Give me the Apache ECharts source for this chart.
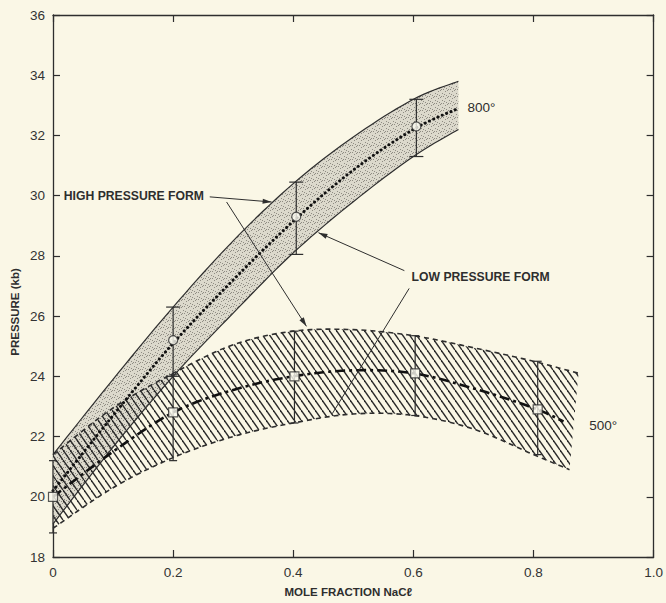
<!DOCTYPE html>
<html lang="en">
<head>
<meta charset="UTF-8">
<title>Pressure vs mole fraction NaCl</title>
<script src="https://cdn.jsdelivr.net/npm/echarts@6/dist/echarts.min.js"></script>
<style>
  * { margin: 0; padding: 0; }
  html, body { width: 666px; height: 603px; background: #faf7e6; }
  #main { width: 666px; height: 603px; }
</style>
</head>
<body>
<div id="main"></div>
<script>
// 800 deg band (high temperature)
var hpX = [0, 0.1, 0.2, 0.3, 0.4, 0.5, 0.6, 0.675];
var hpUpper = [21.4, 23.9, 26.3, 28.5, 30.4, 31.95, 33.2, 33.8];
var hpLower = [19.1, 21.65, 24.0, 26.1, 28.1, 29.8, 31.3, 32.2];
var hpMid = [20.2, 22.7, 25.1, 27.2, 29.15, 30.85, 32.2, 32.9];
var hpPtX = [0.2, 0.405, 0.605];
var hpPtY = [25.2, 29.3, 32.3];
var hpPtLo = [24.0, 28.05, 31.3];
var hpPtHi = [26.3, 30.45, 33.2];

// 500 deg band
var lpUpX = [0, 0.1, 0.2, 0.3, 0.4, 0.5, 0.6, 0.7, 0.8, 0.875];
var lpUpper = [21.4, 22.95, 24.1, 25.05, 25.5, 25.55, 25.35, 24.95, 24.5, 24.1];
var lpLoX = [0, 0.1, 0.2, 0.3, 0.4, 0.5, 0.6, 0.7, 0.8, 0.86];
var lpLower = [18.95, 20.3, 21.3, 22.0, 22.45, 22.75, 22.7, 22.25, 21.4, 20.9];
var lpMidX = [0, 0.1, 0.2, 0.3, 0.4, 0.5, 0.6, 0.7, 0.8, 0.85];
var lpMid = [20.0, 21.5, 22.8, 23.55, 24.0, 24.2, 24.1, 23.6, 22.95, 22.5];
var lpPtX = [0, 0.2, 0.402, 0.603, 0.807];
var lpPtY = [20.0, 22.8, 24.0, 24.1, 22.9];
var lpPtLo = [18.8, 21.2, 22.45, 22.7, 21.4];
var lpPtHi = [21.2, 24.05, 25.5, 25.35, 24.5];

// annotations: [x1, y1, x2, y2, arrow]
var pointers = [
  [0.261, 29.96, 0.364, 29.79, 1],
  [0.289, 29.79, 0.422, 25.66, 1],
  [0.585, 27.51, 0.442, 28.77, 1],
  [0.593, 26.92, 0.465, 22.76, 0]
];
// labels: [x, y, text, bold]
var notes = [
  [0.018, 30.0, 'HIGH PRESSURE FORM', 1],
  [0.597, 27.31, 'LOW PRESSURE FORM', 1],
  [0.69, 32.93, '800°', 0],
  [0.893, 22.36, '500°', 0]
];

var ink = '#2e2e2e';
var fontFam = '"Liberation Sans", Arial, sans-serif';

// catmull-rom through pixel points
function spline(pts) {
  var out = [];
  for (var i = 0; i < pts.length - 1; i++) {
    var p0 = pts[i - 1] || pts[i], p1 = pts[i], p2 = pts[i + 1], p3 = pts[i + 2] || pts[i + 1];
    for (var t = 0; t < 1; t += 0.1) {
      var t2 = t * t, t3 = t2 * t;
      out.push([0, 1].map(function (k) {
        return 0.5 * ((2 * p1[k]) + (-p0[k] + p2[k]) * t + (2 * p0[k] - 5 * p1[k] + 4 * p2[k] - p3[k]) * t2 + (-p0[k] + 3 * p1[k] - 3 * p2[k] + p3[k]) * t3);
      }));
    }
  }
  out.push(pts[pts.length - 1]);
  return out;
}

function mkCanvas(w, h, draw) {
  var c = document.createElement('canvas');
  c.width = w; c.height = h;
  draw(c.getContext('2d'), w, h);
  return c;
}
var hatch = mkCanvas(7, 10, function (ctx, w, h) {
  ctx.strokeStyle = '#2a2a2a';
  ctx.lineWidth = 1.4;
  [-1, 0, 1].forEach(function (k) {
    ctx.beginPath();
    ctx.moveTo(0, k * h);
    ctx.lineTo(w, h + k * h);
    ctx.stroke();
  });
});
var stipple = mkCanvas(7, 7, function (ctx) {
  ctx.fillStyle = '#dcd9cc';
  ctx.fillRect(0, 0, 7, 7);
  ctx.fillStyle = '#8f8c83';
  [[1, 2], [4, 0], [5, 4], [2, 5], [6, 6], [3, 3], [0, 5]].forEach(function (p) { ctx.fillRect(p[0], p[1], 1, 1); });
});

function coords(api, xs, ys) {
  return xs.map(function (x, i) { return api.coord([x, ys[i]]); });
}

function bandFill(xu, yu, xl, yl, pattern, z) {
  return {
    type: 'custom', z: z, silent: true, data: [0],
    renderItem: function (params, api) {
      var up = spline(coords(api, xu, yu));
      var lo = spline(coords(api, xl, yl)).reverse();
      return { type: 'polygon', shape: { points: up.concat(lo) }, style: { fill: { image: pattern, repeat: 'repeat' } } };
    }
  };
}

function curve(xs, ys, style, z) {
  return {
    type: 'custom', z: z, silent: true, data: [0],
    renderItem: function (params, api) {
      return { type: 'polyline', shape: { points: spline(coords(api, xs, ys)) }, style: Object.assign({ fill: null, stroke: ink }, style) };
    }
  };
}

function errorBars(xs, lo, hi, cap, z) {
  return {
    type: 'custom', z: z, silent: true,
    data: xs.map(function (x, i) { return [x, lo[i], hi[i]]; }),
    renderItem: function (params, api) {
      var a = api.coord([api.value(0), api.value(1)]);
      var b = api.coord([api.value(0), api.value(2)]);
      var st = { stroke: ink, lineWidth: 1.2 };
      return { type: 'group', children: [
        { type: 'line', shape: { x1: a[0], y1: a[1], x2: b[0], y2: b[1] }, style: st },
        { type: 'line', shape: { x1: a[0] - cap, y1: a[1], x2: a[0] + cap, y2: a[1] }, style: st },
        { type: 'line', shape: { x1: b[0] - cap, y1: b[1], x2: b[0] + cap, y2: b[1] }, style: st }
      ] };
    }
  };
}

function markers(xs, ys, symbol) {
  return {
    type: 'scatter', z: 6, silent: true, symbol: symbol, symbolSize: 9,
    itemStyle: { color: '#fbfaf0', borderColor: ink, borderWidth: 1.2 },
    data: xs.map(function (x, i) { return [x, ys[i]]; })
  };
}

var line = { onZero: false, lineStyle: { color: ink, width: 1.3 } };
var tick = { inside: true, length: 7, lineStyle: { color: ink, width: 1.2 } };
var option = {
  backgroundColor: '#faf7e6',
  animation: false,
  grid: { left: 53, right: 11, top: 15, bottom: 43 },
  xAxis: [{
    type: 'value', min: 0, max: 1, interval: 0.2,
    name: 'MOLE FRACTION NaCℓ', nameLocation: 'middle', nameGap: 29,
    nameTextStyle: { color: ink, fontSize: 11.5, fontWeight: 'bold', fontFamily: fontFam, padding: [0, 10, 0, 0] },
    axisLine: line, axisTick: tick,
    axisLabel: { color: '#333', fontSize: 13.5, fontFamily: fontFam, margin: 8,
      formatter: function (v) { return v === 0 ? '0' : v.toFixed(1); } },
    splitLine: { show: false }
  }, {
    type: 'value', position: 'top', min: 0, max: 1, interval: 0.2,
    axisLine: line, axisTick: tick,
    axisLabel: { show: false }, splitLine: { show: false }
  }],
  yAxis: [{
    type: 'value', min: 18, max: 36, interval: 2,
    axisLine: line, axisTick: tick,
    axisLabel: { color: '#333', fontSize: 13.5, fontFamily: fontFam, margin: 8 },
    splitLine: { show: false }
  }, {
    type: 'value', position: 'right', min: 18, max: 36, interval: 2,
    axisLine: line, axisTick: tick,
    axisLabel: { show: false }, splitLine: { show: false }
  }],
  graphic: [{
    type: 'text', x: 15, y: 312, rotation: Math.PI / 2,
    style: { text: 'PRESSURE (kb)', fill: ink, fontSize: 11.5, fontWeight: 'bold', fontFamily: fontFam,
      textAlign: 'center', textVerticalAlign: 'middle' }
  }],
  series: [
    bandFill(hpX, hpUpper, hpX, hpLower, stipple, 1),
    bandFill(lpUpX, lpUpper, lpLoX, lpLower, hatch, 2),
    curve(hpX, hpUpper, { lineWidth: 1.2 }, 3),
    curve(hpX, hpLower, { lineWidth: 1.2 }, 3),
    curve(lpUpX, lpUpper, { lineWidth: 1.6, lineDash: [5, 4] }, 3),
    curve(lpLoX, lpLower, { lineWidth: 1.6, lineDash: [5, 4] }, 3),
    curve(hpX, hpMid, { lineWidth: 3, lineDash: [0.1, 4.6], lineCap: 'round', stroke: '#111' }, 4),
    curve(lpMidX, lpMid, { lineWidth: 2.6, lineDash: [10, 4, 3, 4], stroke: '#111' }, 4),
    errorBars(hpPtX, hpPtLo, hpPtHi, 7, 5),
    errorBars(lpPtX, lpPtLo, lpPtHi, 4, 5),
    markers(hpPtX, hpPtY, 'circle'),
    markers(lpPtX, lpPtY, 'rect'),
    {
      type: 'custom', z: 7, silent: true, data: pointers,
      renderItem: function (params, api) {
        var a = api.coord([api.value(0), api.value(1)]);
        var b = api.coord([api.value(2), api.value(3)]);
        var kids = [{ type: 'line', shape: { x1: a[0], y1: a[1], x2: b[0], y2: b[1] }, style: { stroke: ink, lineWidth: 1 } }];
        if (api.value(4)) {
          var dx = b[0] - a[0], dy = b[1] - a[1], L = Math.sqrt(dx * dx + dy * dy);
          var ux = dx / L, uy = dy / L, s = 9, w = 2.6;
          kids.push({ type: 'polygon', shape: { points: [
            [b[0], b[1]],
            [b[0] - ux * s - uy * w, b[1] - uy * s + ux * w],
            [b[0] - ux * s + uy * w, b[1] - uy * s - ux * w]
          ] }, style: { fill: ink } });
        }
        return { type: 'group', children: kids };
      }
    },
    {
      type: 'custom', z: 8, silent: true, data: notes,
      renderItem: function (params, api) {
        var p = api.coord([api.value(0), api.value(1)]);
        var it = notes[params.dataIndex];
        return { type: 'text', x: p[0], y: p[1], style: {
          text: it[2], fill: ink, fontSize: it[3] ? 12.2 : 13.5,
          fontWeight: it[3] ? 'bold' : 'normal', fontFamily: fontFam,
          textAlign: 'left', textVerticalAlign: 'middle'
        } };
      }
    }
  ]
};

var chart = echarts.init(document.getElementById('main'), null, { renderer: 'svg' });
chart.setOption(option);
</script>
</body>
</html>
